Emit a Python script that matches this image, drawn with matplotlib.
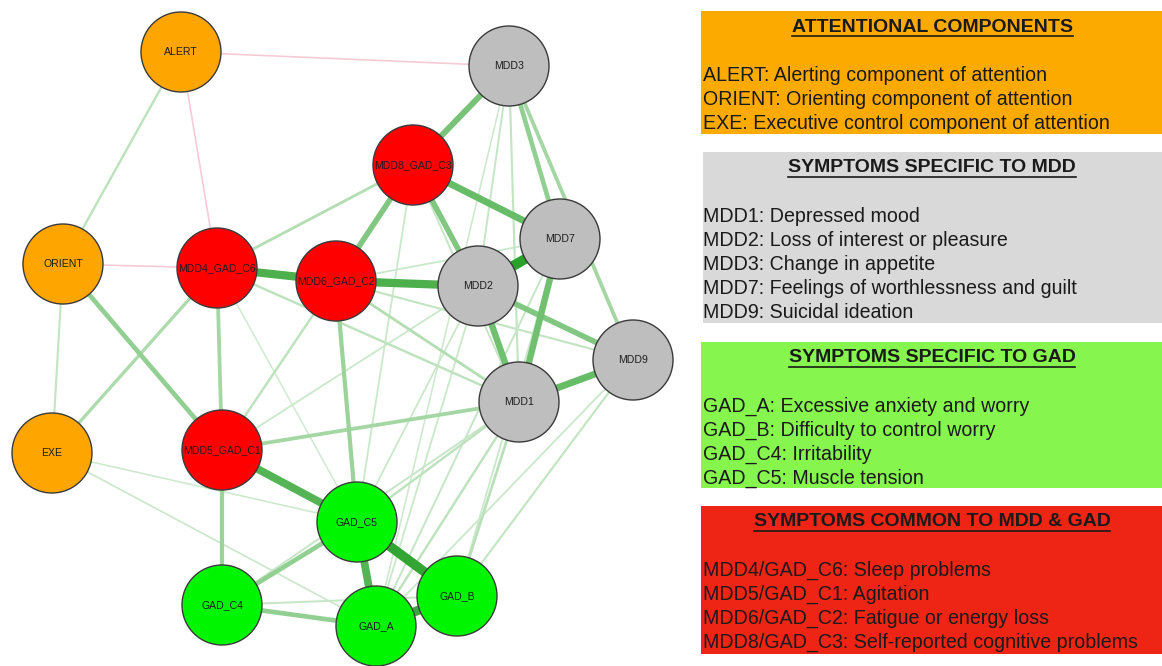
import matplotlib
matplotlib.use("Agg")
from matplotlib import pyplot as plt
from matplotlib.patches import Circle, Rectangle

plt.rcParams["font.family"] = ["Liberation Sans", "DejaVu Sans"]

# nodes of the network (layout in pixel units of the picture)
node_names = ['ALERT', 'ORIENT', 'EXE', 'MDD1', 'MDD2', 'MDD3', 'MDD7', 'MDD9',
              'GAD_A', 'GAD_B', 'GAD_C4', 'GAD_C5',
              'MDD4_GAD_C6', 'MDD5_GAD_C1', 'MDD6_GAD_C2', 'MDD8_GAD_C3']
node_group = ['att', 'att', 'att', 'mdd', 'mdd', 'mdd', 'mdd', 'mdd',
              'gad', 'gad', 'gad', 'gad', 'common', 'common', 'common', 'common']
node_x = [181, 63, 52, 519, 478, 509, 560, 633, 376, 457, 222, 357, 217, 222, 336, 413]
node_y = [52, 264, 453, 402, 286, 66, 239, 360, 626, 596, 605, 522, 268, 450, 281, 165]

# edges: from, to, partial correlation strength (negative = red)
edge_from = ['MDD2', 'GAD_C5', 'GAD_A', 'MDD4_GAD_C6', 'MDD6_GAD_C2', 'MDD5_GAD_C1',
             'GAD_C5', 'MDD8_GAD_C3', 'MDD1', 'MDD7', 'MDD2', 'MDD8_GAD_C3',
             'MDD8_GAD_C3', 'MDD8_GAD_C3', 'MDD2', 'ORIENT', 'MDD3', 'MDD6_GAD_C2',
             'GAD_C4', 'GAD_C4', 'MDD5_GAD_C1', 'MDD4_GAD_C6', 'MDD3', 'MDD5_GAD_C1',
             'MDD4_GAD_C6', 'MDD4_GAD_C6', 'ALERT', 'ORIENT', 'MDD3', 'MDD3',
             'MDD1', 'MDD1', 'MDD1', 'MDD6_GAD_C2', 'MDD4_GAD_C6', 'MDD4_GAD_C6',
             'MDD6_GAD_C2', 'MDD8_GAD_C3', 'MDD8_GAD_C3', 'MDD7', 'MDD9', 'MDD6_GAD_C2',
             'EXE', 'EXE', 'GAD_C4', 'MDD2', 'MDD2', 'MDD7', 'MDD3', 'MDD1',
             'MDD2', 'MDD7', 'MDD9', 'MDD4_GAD_C6',
             'ALERT', 'ALERT', 'ORIENT']
edge_to = ['MDD7', 'GAD_B', 'GAD_B', 'MDD6_GAD_C2', 'MDD2', 'GAD_C5',
           'GAD_A', 'MDD7', 'MDD9', 'MDD1', 'MDD1', 'MDD3',
           'MDD6_GAD_C2', 'MDD2', 'MDD9', 'MDD5_GAD_C1', 'MDD7', 'GAD_C5',
           'GAD_C5', 'GAD_A', 'GAD_C4', 'MDD5_GAD_C1', 'MDD9', 'MDD1',
           'EXE', 'MDD8_GAD_C3', 'ORIENT', 'EXE', 'MDD2', 'MDD1',
           'GAD_C5', 'GAD_A', 'GAD_B', 'MDD1', 'MDD1', 'MDD2',
           'MDD9', 'MDD1', 'GAD_C5', 'GAD_A', 'GAD_B', 'MDD5_GAD_C1',
           'GAD_A', 'GAD_C5', 'GAD_B', 'GAD_C5', 'GAD_A', 'GAD_B', 'GAD_A', 'GAD_C4',
           'MDD5_GAD_C1', 'MDD6_GAD_C2', 'GAD_A', 'GAD_C5',
           'MDD3', 'MDD4_GAD_C6', 'MDD4_GAD_C6']
edge_weight = [1.0, 0.95, 0.9, 0.8, 0.8, 0.75,
               0.75, 0.65, 0.65, 0.6, 0.6, 0.55,
               0.5, 0.5, 0.5, 0.4, 0.4, 0.35,
               0.4, 0.4, 0.35, 0.3, 0.3, 0.3,
               0.25, 0.2, 0.15, 0.12, 0.1, 0.12,
               0.15, 0.15, 0.18, 0.2, 0.15, 0.12,
               0.12, 0.1, 0.08, 0.1, 0.12, 0.15,
               0.07, 0.06, 0.1, 0.08, 0.08, 0.08, 0.06, 0.1,
               0.08, 0.08, 0.08, 0.05,
               -0.1, -0.1, -0.1]

# legend texts
legend_titles = ['ATTENTIONAL COMPONENTS', 'SYMPTOMS SPECIFIC TO MDD',
                 'SYMPTOMS SPECIFIC TO GAD', 'SYMPTOMS COMMON TO MDD & GAD']
legend_lines = [
    ['ALERT: Alerting component of attention',
     'ORIENT: Orienting component of attention',
     'EXE: Executive control component of attention'],
    ['MDD1: Depressed mood',
     'MDD2: Loss of interest or pleasure',
     'MDD3: Change in appetite',
     'MDD7: Feelings of worthlessness and guilt',
     'MDD9: Suicidal ideation'],
    ['GAD_A: Excessive anxiety and worry',
     'GAD_B: Difficulty to control worry',
     'GAD_C4: Irritability',
     'GAD_C5: Muscle tension'],
    ['MDD4/GAD_C6: Sleep problems',
     'MDD5/GAD_C1: Agitation',
     'MDD6/GAD_C2: Fatigue or energy loss',
     'MDD8/GAD_C3: Self-reported cognitive problems'],
]

node_colors = {'att': '#FFA500', 'mdd': '#BEBEBE', 'gad': '#00F500', 'common': '#FF0000'}
box_colors = ['#FDAA00', '#D9D9D9', '#86F54E', '#EE2414']

fig = plt.figure(figsize=(11.62, 6.66), dpi=100)
ax = fig.add_axes([0, 0, 1, 1])
ax.set_xlim(0, 1162)
ax.set_ylim(666, 0)
ax.set_aspect('equal')
ax.axis('off')

pos = {n: (x, y) for n, x, y in zip(node_names, node_x, node_y)}


def mix(c, a):
    return tuple(1 - a + a * v for v in c)


base = (0.05, 0.58, 0.05)
order = sorted(range(len(edge_weight)), key=lambda i: abs(edge_weight[i]))
for i in order:
    w = edge_weight[i]
    (x0, y0), (x1, y1) = pos[edge_from[i]], pos[edge_to[i]]
    if w > 0:
        col = mix(base, 0.16 + 0.72 * w)
        lw = 0.8 + 6.4 * w
    else:
        col = '#F5CCD5'
        lw = 1.2
    ax.plot([x0, x1], [y0, y1], color=col, lw=lw, solid_capstyle='butt', zorder=1)

for n, g in zip(node_names, node_group):
    x, y = pos[n]
    ax.add_patch(Circle((x, y), 40, facecolor=node_colors[g], edgecolor='#3a3a3a',
                        lw=1.0, zorder=3))
    ax.text(x, y, n, ha='center', va='center', fontsize=7.6, color='#1e1e1e', zorder=4)

# legend boxes on the right
box_top = [11, 152, 342, 506]
box_bottom = [134, 323, 488, 654]
box_left = [701, 703, 701, 701]
fig.canvas.draw()
renderer = fig.canvas.get_renderer()
inv = ax.transData.inverted()
for k in range(4):
    ax.add_patch(Rectangle((box_left[k], box_top[k]), 470, box_bottom[k] - box_top[k],
                           facecolor=box_colors[k], edgecolor='none', zorder=1))
    ty = box_top[k] + 16
    t = ax.text(932, ty, legend_titles[k], ha='center', va='center', fontsize=14,
                fontweight='bold', color='#1a1a1a', zorder=2)
    bb = t.get_window_extent(renderer)
    (ux0, _), (ux1, _) = inv.transform([(bb.x0, bb.y0), (bb.x1, bb.y0)])
    ax.plot([ux0, ux1], [ty + 9, ty + 9], color='#1a1a1a', lw=1.2, zorder=2)
    for j, line in enumerate(legend_lines[k]):
        ax.text(703, box_top[k] + 64.5 + 24 * j, line, ha='left', va='center',
                fontsize=14.1, color='#1a1a1a', zorder=2)

fig.savefig("out.png", dpi=100)
